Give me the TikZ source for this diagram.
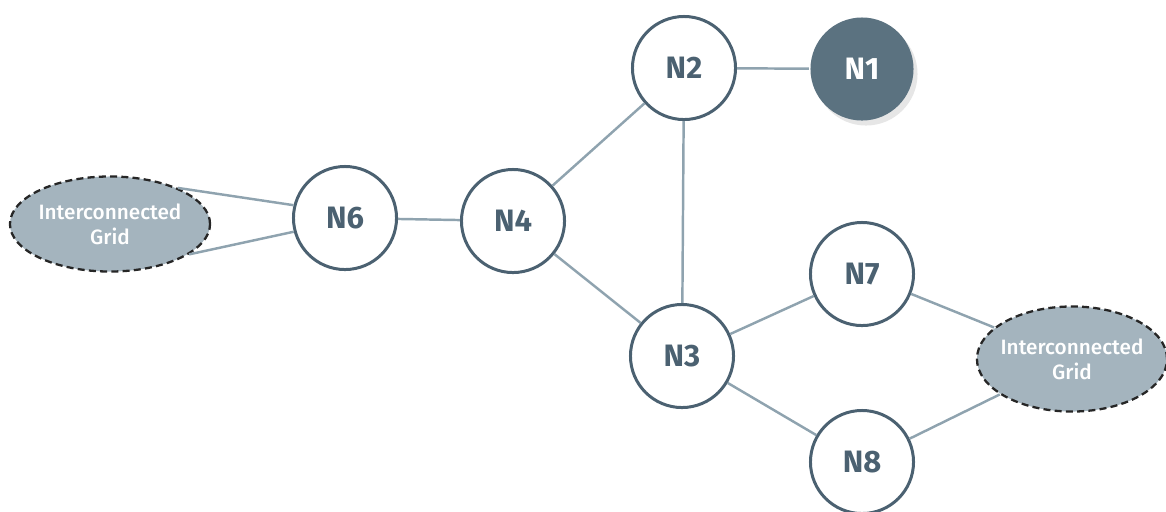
\documentclass[tikz,border=0pt]{standalone}
\usepackage{fontspec}
\setmainfont{Fira Sans}
\newfontfamily\gridfont{Fira Sans Medium}
\usepackage{tikz}
\usetikzlibrary{shapes.geometric}
\usetikzlibrary{shadows}
\definecolor{slate}{HTML}{4B6171}
\definecolor{wire}{HTML}{8FA3AF}
\definecolor{gridfill}{HTML}{A4B4BE}
\definecolor{darkfill}{HTML}{5B7280}

\begin{document}
\begin{tikzpicture}[x=0.01cm,y=-0.01cm]
	\useasboundingbox (0,0) rectangle (1166,511);
	\begin{scope}[every node/.style={circle,draw=slate,line width=0.85pt,minimum size=1.03cm,inner sep=0pt,text=slate,font=\bfseries\fontsize{8.8}{10}\selectfont}]
	\node[fill=white] (N2) at (684,68) {N2};
	\node[fill=darkfill,draw=none,text=white,drop shadow={opacity=0.2,shadow xshift=0.04cm,shadow yshift=-0.05cm}] (N1) at (862,69) {N1};
	\node[fill=white] (N6) at (345,218) {N6};
	\node[fill=white] (N4) at (513,221) {N4};
	\node[fill=white] (N3) at (682,356) {N3};
	\node[fill=white] (N7) at (862,274) {N7};
	\node[fill=white] (N8) at (862,462) {N8};
	\end{scope}

	\begin{scope}[every node/.style={ellipse,draw=black!85,dash pattern=on 2pt off 1.2pt,line width=0.65pt,fill=gridfill,text=white,align=center,inner xsep=-9pt,inner ysep=-4pt,font=\gridfont\fontsize{5.9}{7.2}\selectfont}]
	\node[minimum width=2cm,minimum height=0.95cm] (gridL) at (110,224) {Interconnected\\Grid};
	\node[minimum width=1.9cm,minimum height=1.05cm] (gridR) at (1072,359) {Interconnected\\Grid};
	\end{scope}

	\begin{scope}[every edge/.style={draw=wire,line width=0.7pt}]
	\path [-] (gridL.28) edge (N6.166);
	\path [-] (gridL.-21) edge (N6.195);
	\path [-] (N6) edge (N4);
	\path [-] (N4) edge (N2);
	\path [-] (N4) edge (N3);
	\path [-] (N2) edge (N3);
	\path [-] (N2) edge (N1);
	\path [-] (N3) edge (N7);
	\path [-] (N3) edge (N8);
	\path [-] (N7) edge (gridR);
	\path [-] (N8) edge (gridR);
	\end{scope}
\end{tikzpicture}
\end{document}
